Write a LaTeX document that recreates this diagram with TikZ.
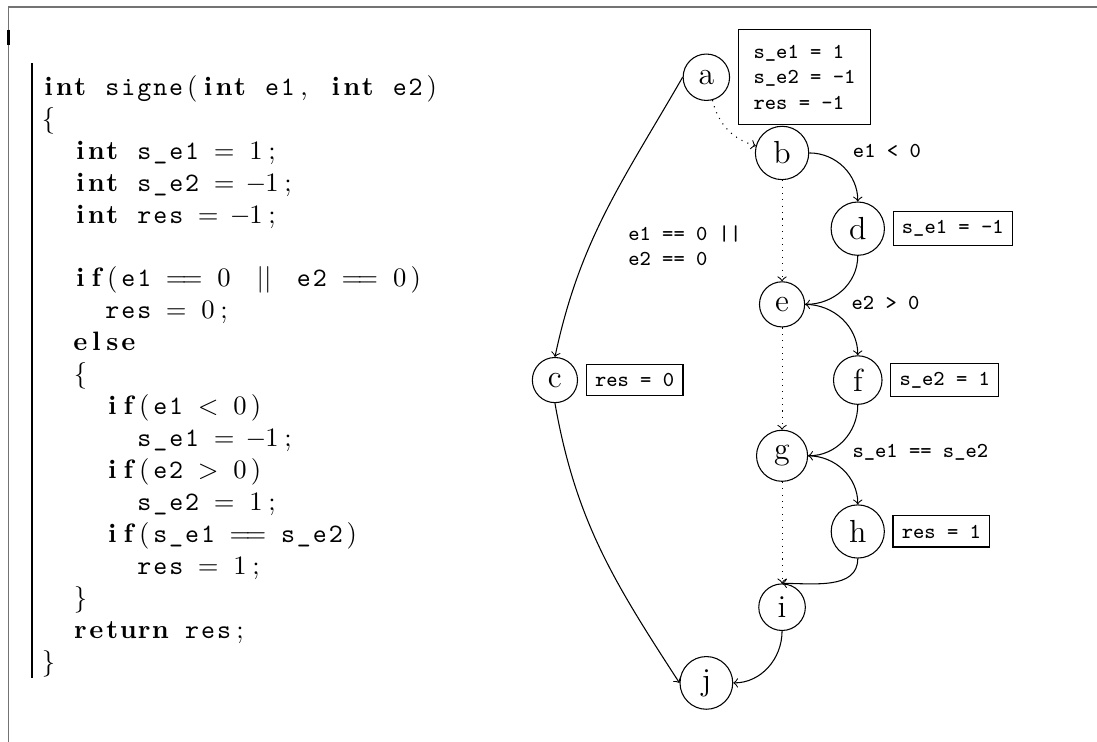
\documentclass[tikz,border=0pt]{standalone}
\usetikzlibrary{positioning}
\makeatletter
% one fixed column per character, as in a listing
\newcommand\fxcol[1]{\@tfor\fx@c:=#1\do{\makebox[6pt]{\fx@c}}}
\makeatother
\newcommand\kw[1]{{\bfseries\fxcol{#1}}}
\newcommand\idt[1]{{\ttfamily\fxcol{#1}}}
\newcommand\ot[1]{\fxcol{#1}}
\tikzset{
  vertex/.style={draw,circle,font=\large,inner sep=3.33pt},
  info/.style={draw,rectangle,font=\footnotesize\ttfamily,inner sep=3.33pt},
  cond/.style={font=\footnotesize\ttfamily},
  flow/.style={->},
  skip/.style={->,dotted}
}
\begin{document}
\begin{tikzpicture}
\useasboundingbox (0,0) rectangle (14.49,-9.80);
% frame
\draw[black!55,line width=0.6pt] (0.11,-9.80) -- (0.11,-0.09) -- (14.49,-0.09);
\draw[line width=1.1pt] (0.11,-0.39) -- (0.11,-0.60);
% code
\node[anchor=north west,inner xsep=3pt,inner ysep=2.4pt,align=left,font=\normalsize] (code) at (0.423,-0.905) {%
\kw{int}\ot{~}\idt{signe}\ot{(}\kw{int}\ot{~}\idt{e1}\ot{,~}\kw{int}\ot{~}\idt{e2}\ot{)}\\
\ot{{$\{$}}\\
\ot{~~}\kw{int}\ot{~}\idt{s\_e1}\ot{~=~1;}\\
\ot{~~}\kw{int}\ot{~}\idt{s\_e2}\ot{~=~{$-$}1;}\\
\ot{~~}\kw{int}\ot{~}\idt{res}\ot{~=~{$-$}1;}\\
\mbox{}\\
\ot{~~}\kw{if}\ot{(}\idt{e1}\ot{~==~0~}\makebox[12pt]{$||$}\ot{~}\idt{e2}\ot{~==~0)}\\
\ot{~~~~}\idt{res}\ot{~=~0;}\\
\ot{~~}\kw{else}\\
\ot{~~{$\{$}}\\
\ot{~~~~}\kw{if}\ot{(}\idt{e1}\ot{~{$<$}~0)}\\
\ot{~~~~~~}\idt{s\_e1}\ot{~=~{$-$}1;}\\
\ot{~~~~}\kw{if}\ot{(}\idt{e2}\ot{~{$>$}~0)}\\
\ot{~~~~~~}\idt{s\_e2}\ot{~=~1;}\\
\ot{~~~~}\kw{if}\ot{(}\idt{s\_e1}\ot{~==~}\idt{s\_e2}\ot{)}\\
\ot{~~~~~~}\idt{res}\ot{~=~1;}\\
\ot{~~{$\}$}}\\
\ot{~~}\kw{return}\ot{~}\idt{res}\ot{;}\\
\ot{{$\}$}}};
\draw ([yshift=2pt]code.north west) -- ([yshift=2pt]code.south west);
% graph
\node[vertex] (a) at (9.33,-1.02) {a};
\node[vertex] (b) at (10.33,-2.02) {b};
\node[vertex] (d) at (11.33,-3.02) {d};
\node[vertex] (e) at (10.33,-4.02) {e};
\node[vertex] (c) at (7.33,-5.02) {c};
\node[vertex] (f) at (11.33,-5.02) {f};
\node[vertex] (g) at (10.33,-6.02) {g};
\node[vertex] (h) at (11.33,-7.02) {h};
\node[vertex] (i) at (10.33,-8.02) {i};
\node[vertex] (j) at (9.33,-9.02) {j};
\node[info,right=1mm of a,inner sep=5.8pt,align=left] (ia) {s\_e1 = 1\\s\_e2 = -1\\res = -1};
\node[info,right=1mm of d] (id) {s\_e1 = -1};
\node[info,right=1mm of c] (ic) {res = 0};
\node[info,right=1mm of f] (if) {s\_e2 = 1};
\node[info,right=1mm of h] (ih) {res = 1};
\draw[flow] (a.west) to[out=-120,in=78] node[cond,below right,align=left,xshift=5pt,yshift=-1.5pt] {e1 == 0 ||\\e2 == 0} (c.north);
\draw[skip] (a) to[bend right] (b);
\draw[flow] (b) to[out=0,in=90] node[cond,above right] {e1 < 0} (d);
\draw[skip] (b) -- (e);
\draw[flow] (d) to[out=-90,in=0] (e);
\draw[flow] (e) to[out=0,in=90] node[cond,above right] {e2 > 0} (f);
\draw[skip] (e) -- (g);
\draw[flow] (f) to[out=-90,in=0] (g);
\draw[flow] (g) to[out=0,in=90] node[cond,above right] {s\_e1 == s\_e2} (h);
\draw[skip] (g) -- (i);
\draw[flow] (h) to[out=-90,in=0] (i.north);
\draw[flow] (i) to[out=-90,in=0] (j);
\draw[flow] (c.south) to[out=-80,in=123] (j.west);
\end{tikzpicture}
\end{document}
